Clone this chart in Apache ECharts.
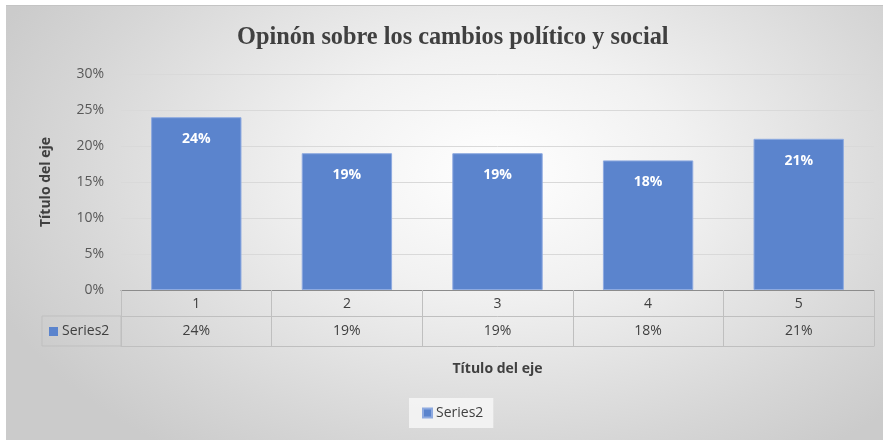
<!DOCTYPE html>
<html>
<head>
<meta charset="utf-8">
<script src="https://cdn.jsdelivr.net/npm/echarts@6/dist/echarts.min.js"></script>
<style>
html,body{margin:0;padding:0;background:#fff;}
#wrap{position:relative;width:886px;height:440px;}
#bg{position:absolute;left:6px;top:5px;width:877px;height:435px;box-sizing:border-box;border-top:1px solid #c4c4c4;
background:radial-gradient(ellipse 62% 80% at 56% 38%, #ffffff 0%, #f1f1f1 35%, #d6d6d6 80%, #cbcbcb 100%);}
#chart{position:absolute;left:0;top:0;width:886px;height:440px;}
</style>
</head>
<body>
<div id="wrap"><div id="bg"></div><div id="chart"></div></div>
<script>
const titleText = 'Opinón sobre los cambios político y social';
const categories = ['1', '2', '3', '4', '5'];
const seriesName = 'Series2';
const values = [0.24, 0.19, 0.19, 0.18, 0.21];
const yTicks = [0, 0.05, 0.10, 0.15, 0.20, 0.25, 0.30];
const axisTitle = 'Título del eje';

const pct = v => Math.round(v * 100) + '%';
const valueLabels = values.map(pct);

const FONT = '"Open Sans", "Noto Sans", sans-serif';
const gridLeft = 121, gridRight = 12, gridTop = 74, gridBottom = 150;
const H = 440;
const axisY = H - gridBottom;
const row1 = 26, row2 = 30;
const headerLeft = 42;
const barColor = '#5b84cd';

const chart = echarts.init(document.getElementById('chart'), null, {renderer: 'canvas'});
chart.setOption({
  backgroundColor: 'transparent',
  textStyle: {fontFamily: FONT},
  title: {
    text: titleText, left: 232, top: 21,
    textStyle: {fontFamily: '"Liberation Serif", "DejaVu Serif", serif', fontWeight: 'bold', fontSize: 24.3, color: '#404040'}
  },
  legend: {
    data: [seriesName], left: 409, top: 398, icon: 'rect', itemWidth: 9, itemHeight: 9, itemGap: 5,
    backgroundColor: 'rgba(250,250,250,0.75)', padding: [8, 10, 8, 13],
    textStyle: {fontFamily: FONT, fontSize: 14, color: '#404040', padding: [0, 0, 0, -1]}
  },
  grid: {left: gridLeft, right: gridRight, top: gridTop, bottom: gridBottom, containLabel: false, outerBoundsMode: 'none'},
  xAxis: [
    {
      type: 'category', data: categories, position: 'bottom',
      axisLine: {show: true, lineStyle: {color: '#8c8c8c', width: 1.2}},
      axisTick: {show: true, alignWithLabel: false, length: row1 + row2, lineStyle: {color: '#bfbfbf'}},
      axisLabel: {margin: 7, fontSize: 14, color: '#404040', fontFamily: FONT},
      splitLine: {show: false}
    },
    {
      type: 'category', data: valueLabels, position: 'bottom', offset: row1,
      axisLine: {show: true, lineStyle: {color: '#bfbfbf'}},
      axisTick: {show: false},
      axisLabel: {margin: 8, fontSize: 14, color: '#404040', fontFamily: FONT},
      splitLine: {show: false}
    },
    {
      type: 'category', data: categories, position: 'bottom', offset: row1 + row2,
      axisLine: {show: true, lineStyle: {color: '#bfbfbf'}},
      axisTick: {show: false},
      axisLabel: {show: false},
      name: axisTitle, nameLocation: 'middle', nameGap: 16,
      nameTextStyle: {fontFamily: FONT, fontSize: 14, fontWeight: 'bold', color: '#404040'}
    }
  ],
  yAxis: {
    type: 'value', min: yTicks[0], max: yTicks[yTicks.length - 1], interval: yTicks[1] - yTicks[0],
    axisLine: {show: false}, axisTick: {show: false},
    axisLabel: {margin: 17, fontSize: 14, color: '#595959', fontFamily: FONT, formatter: v => pct(v)},
    splitLine: {lineStyle: {color: '#d9d9d9', width: 1}},
    name: axisTitle, nameLocation: 'middle', nameGap: 68, nameRotate: 90,
    nameTextStyle: {fontFamily: FONT, fontSize: 14, fontWeight: 'bold', color: '#404040'}
  },
  series: [{
    name: seriesName, type: 'bar', xAxisIndex: 0, data: values, barWidth: '60%',
    itemStyle: {color: barColor, borderColor: '#8eaae0', borderWidth: 1},
    label: {show: true, position: 'insideTop', distance: 15, formatter: p => pct(p.value),
      color: '#ffffff', fontWeight: 'bold', fontSize: 14, fontFamily: FONT},
    emphasis: {disabled: true}
  }],
  graphic: [{
    type: 'group', x: headerLeft, y: axisY + row1,
    children: [
      {type: 'rect', shape: {x: 0, y: 0, width: gridLeft - headerLeft, height: row2},
        style: {fill: 'none', stroke: '#bfbfbf', lineWidth: 1}},
      {type: 'rect', shape: {x: 7, y: 11, width: 9, height: 9}, style: {fill: barColor}},
      {type: 'text', x: 20, y: 15, style: {text: seriesName, fontFamily: FONT, fontSize: 14, fill: '#404040', verticalAlign: 'middle'}}
    ]
  }]
});
</script>
</body>
</html>
